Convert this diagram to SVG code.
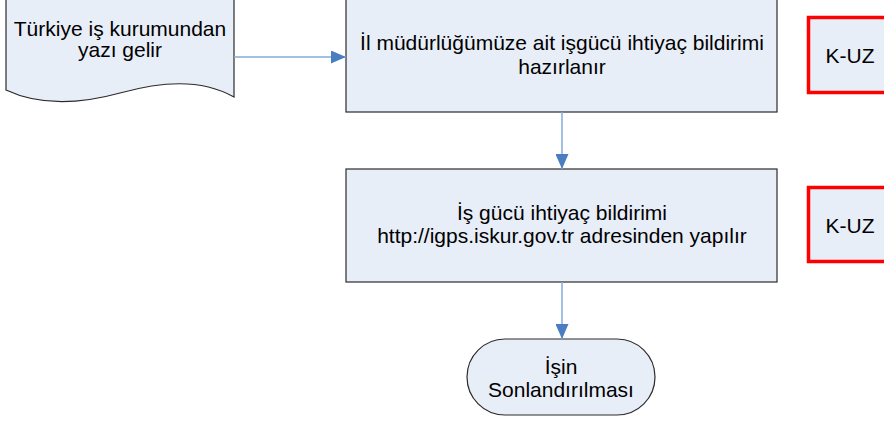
<svg xmlns="http://www.w3.org/2000/svg" width="884" height="421" viewBox="0 0 884 421">
<defs>
<style>
.shape{fill:#E8EEF8;stroke:#2b2b2b;stroke-width:1.2}
.red{fill:#E8EEF8;stroke:#FF0000;stroke-width:3.5}
.t{font-family:"Liberation Sans",Arial,sans-serif;font-size:21px;fill:#000;text-anchor:middle}
.c{fill:none;stroke:#86AADB;stroke-width:1.5}
</style>
<marker id="ah" markerWidth="15" markerHeight="13" refX="15" refY="6.5" orient="auto" markerUnits="userSpaceOnUse">
<path d="M0,0 L15,6.5 L0,13 Z" fill="#4A7EC0"/>
</marker>
</defs>
<g id="doc">
<path class="shape" d="M6,-5 L234,-5 L234,97 C200,78 160,82 120,93 C80,104 40,106 6,90 Z"/>
<text class="t" x="120" y="36">Türkiye iş kurumundan</text>
<text class="t" x="120" y="57">yazı gelir</text>
</g>
<g id="box1">
<rect class="shape" x="346" y="-5" width="431" height="117"/>
<text class="t" x="562" y="50">İl müdürlüğümüze ait işgücü ihtiyaç bildirimi</text>
<text class="t" x="562" y="74">hazırlanır</text>
</g>
<g id="kuz1">
<rect class="red" x="808.5" y="17.5" width="90" height="75"/>
<text class="t" x="850" y="63">K-UZ</text>
</g>
<g id="box2">
<rect class="shape" x="346" y="169" width="431" height="113"/>
<text class="t" x="562" y="220">İş gücü ihtiyaç bildirimi</text>
<text class="t" x="562" y="243">http://igps.iskur.gov.tr adresinden yapılır</text>
</g>
<g id="kuz2">
<rect class="red" x="808.5" y="187.5" width="90" height="74"/>
<text class="t" x="850" y="233">K-UZ</text>
</g>
<g id="end">
<rect class="shape" x="467" y="339" width="188" height="76" rx="38" ry="38"/>
<text class="t" x="561" y="374">İşin</text>
<text class="t" x="561" y="397">Sonlandırılması</text>
</g>
<g id="connectors">
<path class="c" d="M234,57 L346,57" marker-end="url(#ah)"/>
<path class="c" d="M562,112 L562,169" marker-end="url(#ah)"/>
<path class="c" d="M562,282 L562,339" marker-end="url(#ah)"/>
</g>
</svg>
